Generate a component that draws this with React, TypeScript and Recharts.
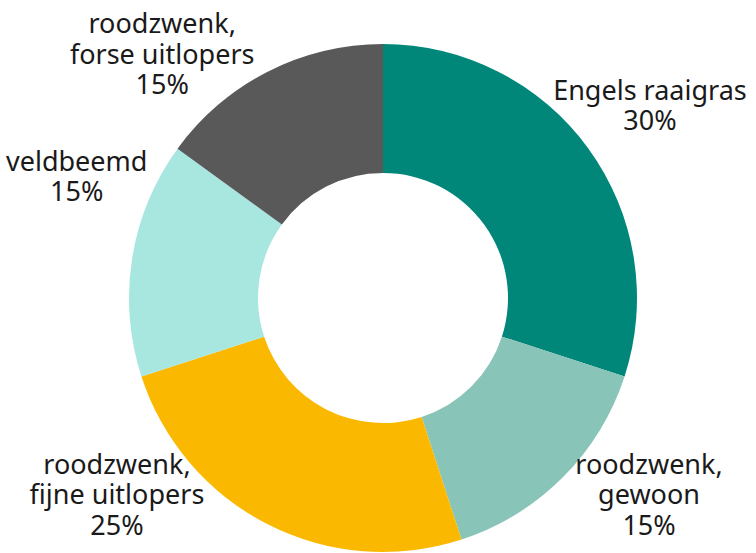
import React from 'react';
import { PieChart, Pie, Cell } from 'recharts';

const W = 756;
const H = 553;

const categories = [
  'Engels raaigras',
  'roodzwenk, gewoon',
  'roodzwenk, fijne uitlopers',
  'veldbeemd',
  'roodzwenk, forse uitlopers',
];
const labelLines: string[][] = [
  ['Engels raaigras'],
  ['roodzwenk,', 'gewoon'],
  ['roodzwenk,', 'fijne uitlopers'],
  ['veldbeemd'],
  ['roodzwenk,', 'forse uitlopers'],
];
const values = [30, 15, 25, 15, 15];
const colors = ['#00877a', '#88c4b8', '#fab900', '#a8e6e0', '#595959'];

const data = categories.map((name, i) => ({ name, value: values[i] }));

const FONT_SIZE = 27;
const LINE_H = 30.5;
const FONT_FAMILY = "'Noto Sans', 'Open Sans', sans-serif";
const LABEL_R = 330;
const PAD_TOP = 7;
const PAD_BOTTOM = 14;
const PAD_X = 6;

let ctx: CanvasRenderingContext2D | null = null;
function measure(t: string): number {
  if (!ctx) {
    const c = document.createElement('canvas');
    ctx = c.getContext('2d');
  }
  if (!ctx) return t.length * FONT_SIZE * 0.55;
  ctx.font = `${FONT_SIZE}px 'Noto Sans'`;
  return ctx.measureText(t).width;
}

function renderLabel(props: any) {
  const { cx, cy, midAngle, index } = props;
  const lines = [...labelLines[index], `${values[index]}%`];
  const w = Math.max(...lines.map(measure));
  const h = lines.length * LINE_H;
  const rad = (-midAngle * Math.PI) / 180;
  let x = cx + LABEL_R * Math.cos(rad);
  let y = cy + LABEL_R * Math.sin(rad);
  const minY = h / 2 + PAD_TOP;
  const maxY = H - h / 2 - PAD_BOTTOM;
  const minX = w / 2 + PAD_X;
  const maxX = W - w / 2 - PAD_X;
  let yClamped = false;
  if (y < minY || y > maxY) {
    yClamped = true;
    y = Math.min(Math.max(y, minY), maxY);
    const dy = y - cy;
    const dx = Math.sqrt(Math.max(LABEL_R * LABEL_R - dy * dy, 0));
    x = cx + (x < cx ? -dx : dx);
  }
  if (x < minX || x > maxX) {
    x = Math.min(Math.max(x, minX), maxX);
    if (!yClamped) {
      const dx = x - cx;
      const dy = Math.sqrt(Math.max(LABEL_R * LABEL_R - dx * dx, 0));
      y = cy + (y < cy ? -dy : dy);
      y = Math.min(Math.max(y, minY), maxY);
    }
  }
  const top = y - h / 2 + LINE_H / 2;
  return (
    <text
      key={`lbl-${index}`}
      x={x}
      y={top}
      textAnchor="middle"
      dominantBaseline="central"
      fontSize={FONT_SIZE}
      fontFamily={FONT_FAMILY}
      fill="#1a1a1a"
    >
      {lines.map((l, i) => (
        <tspan key={i} x={x} y={top + i * LINE_H} dominantBaseline="central">
          {l}
        </tspan>
      ))}
    </text>
  );
}

export default function App() {
  return (
    <div style={{ position: 'absolute', left: 0, top: 0, width: W, height: H, background: '#fff' }}>
      <PieChart width={W} height={H} margin={{ top: 0, right: 0, bottom: 0, left: 0 }}>
        <Pie
          data={data}
          dataKey="value"
          nameKey="name"
          cx={383}
          cy={298}
          innerRadius={125}
          outerRadius={254}
          startAngle={90}
          endAngle={-270}
          stroke="none"
          label={renderLabel}
          labelLine={false}
          isAnimationActive={false}
        >
          {data.map((d, i) => (
            <Cell key={d.name} fill={colors[i]} />
          ))}
        </Pie>
      </PieChart>
    </div>
  );
}
